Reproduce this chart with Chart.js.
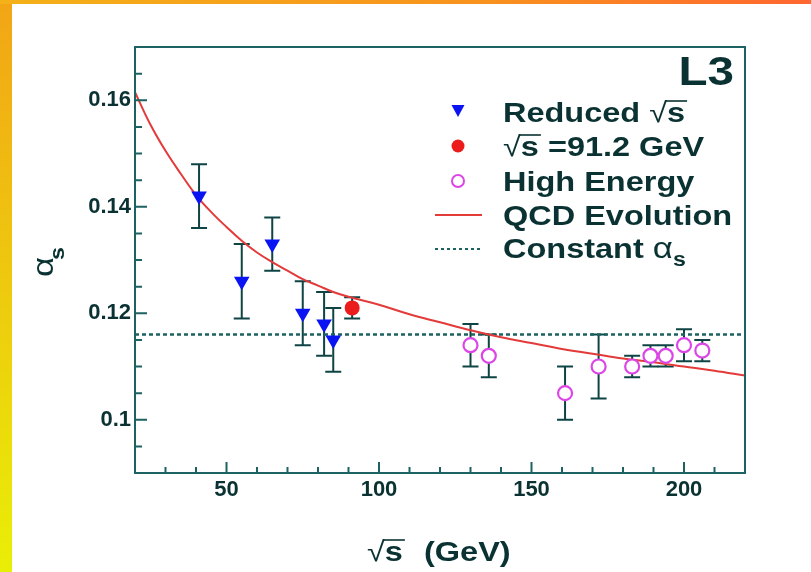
<!DOCTYPE html>
<html>
<head>
<meta charset="utf-8">
<script src="https://cdn.jsdelivr.net/npm/chart.js@4.4.0/dist/chart.umd.min.js"></script>
<style>
    html, body { margin: 0; padding: 0; background: #fff; }
    #wrap { position: relative; width: 811px; height: 572px; overflow: hidden; background: #fff; }
    #left { position: absolute; left: 0; top: 0; width: 12px; height: 572px; background: linear-gradient(#f2a516, #e9ee06); }
    #top { position: absolute; left: 0; top: 0; width: 811px; height: 4px; background: linear-gradient(90deg, #f4b118, #f8921e 60%, #ff6630); }
    canvas { position: absolute; left: 0; top: 0; }
</style>
</head>
<body>
<div id="wrap">
    <div id="left"></div>
    <div id="top"></div>
    <canvas id="myChart" width="811" height="572"></canvas>
</div>
<script>
// ejes
const xMin = 20, xMax = 220;
const yMin = 0.09, yMax = 0.17;
const xTicks = [50, 100, 150, 200];
const xTickLabels = ['50', '100', '150', '200'];
const yTicks = [0.1, 0.12, 0.14, 0.16];
const yTickLabels = ['0.1', '0.12', '0.14', '0.16'];

// Reduced sqrt(s)
const reducedX = [41, 55, 65, 75, 82, 85];
const reducedY = [0.142, 0.126, 0.133, 0.120, 0.118, 0.115];
const reducedErr = [0.006, 0.007, 0.005, 0.006, 0.006, 0.006];

// sqrt(s) = 91.2 GeV
const zX = [91.2];
const zY = [0.121];
const zErr = [0.002];

// High Energy
const highX = [130, 136, 161, 172, 183, 189, 194, 200, 206];
const highY = [0.114, 0.112, 0.105, 0.110, 0.110, 0.112, 0.112, 0.114, 0.113];
const highErr = [0.004, 0.004, 0.005, 0.006, 0.002, 0.002, 0.002, 0.003, 0.002];

// QCD Evolution
const qcdX = [20, 25, 30, 35, 40, 45, 50, 55, 60, 65, 70, 75, 80, 85, 90, 100, 110, 120, 130, 140, 150, 160, 170, 180, 190, 200, 210, 220];
const qcdY = [0.1615, 0.1555, 0.1505, 0.1462, 0.1422, 0.1390, 0.1362, 0.1336, 0.1314, 0.1296, 0.1280, 0.1264, 0.1252, 0.1240, 0.1231, 0.1216, 0.1198, 0.1183, 0.1168, 0.1155, 0.1144, 0.1133, 0.1124, 0.1115, 0.1108, 0.1100, 0.1092, 0.1083];

// Constant alpha_s
const constAlpha = 0.116;

const ink = '#0b3232';
const frameColor = '#1c6262';
const barColor = '#0f4444';
const blue = '#0a14f2';
const red = '#ec1c1c';
const magenta = '#dc46e6';
const curveRed = '#e33a3a';
const SX = 1.16;
const FONT = '"Liberation Sans", Arial, sans-serif';

function pts(xs, ys) {
    return xs.map((x, i) => ({ x: x, y: ys[i] }));
}

function txt(ctx, s, x, y, font, align) {
    ctx.save();
    ctx.font = font;
    ctx.textAlign = align || 'left';
    ctx.textBaseline = 'alphabetic';
    ctx.translate(x, y);
    ctx.scale(SX, 1);
    ctx.fillText(s, 0, 0);
    ctx.restore();
    ctx.font = font;
    return ctx.measureText(s).width * SX;
}

// raiz con barra: devuelve el ancho
function sqrtS(ctx, x, y, size) {
    const fr = size + 'px ' + FONT;
    const fb = 'bold ' + size + 'px ' + FONT;
    ctx.font = fr;
    const top = ctx.measureText('\u221A').actualBoundingBoxAscent;
    const w1 = txt(ctx, '\u221A', x, y, fr);
    const w2 = txt(ctx, 's', x + w1, y, fb);
    ctx.save();
    ctx.strokeStyle = ink;
    ctx.lineWidth = 1.6;
    ctx.beginPath();
    ctx.moveTo(x + w1 - 1, y - top + 1);
    ctx.lineTo(x + w1 + w2 + 2, y - top + 1);
    ctx.stroke();
    ctx.restore();
    return w1 + w2;
}

function errBars(ctx, xs, ys, es, sx, sy) {
    xs.forEach((x, i) => {
        const px = sx.getPixelForValue(x);
        const p1 = sy.getPixelForValue(ys[i] + es[i]);
        const p2 = sy.getPixelForValue(ys[i] - es[i]);
        ctx.beginPath();
        ctx.moveTo(px, p1); ctx.lineTo(px, p2);
        ctx.moveTo(px - 8, p1); ctx.lineTo(px + 8, p1);
        ctx.moveTo(px - 8, p2); ctx.lineTo(px + 8, p2);
        ctx.stroke();
    });
}

const l3Plot = {
    id: 'l3Plot',
    beforeDatasetsDraw(chart) {
        const ctx = chart.ctx;
        const sx = chart.scales.x, sy = chart.scales.y;
        ctx.save();
        ctx.strokeStyle = barColor;
        ctx.lineWidth = 2;
        errBars(ctx, reducedX, reducedY, reducedErr, sx, sy);
        errBars(ctx, zX, zY, zErr, sx, sy);
        errBars(ctx, highX, highY, highErr, sx, sy);
        ctx.restore();
    },
    afterDraw(chart) {
        const ctx = chart.ctx;
        const a = chart.chartArea;
        const sx = chart.scales.x, sy = chart.scales.y;
        ctx.save();
        // marco
        ctx.strokeStyle = frameColor;
        ctx.lineWidth = 2;
        ctx.strokeRect(a.left, a.top, a.right - a.left, a.bottom - a.top);
        // ticks hacia adentro
        ctx.beginPath();
        for (let v = 30; v <= 210; v += 10) {
            const px = sx.getPixelForValue(v);
            const len = v % 50 === 0 ? 11 : 6;
            ctx.moveTo(px, a.bottom);
            ctx.lineTo(px, a.bottom - len);
        }
        for (let k = 19; k <= 33; k++) {
            const py = sy.getPixelForValue(k * 0.005);
            const len = k % 4 === 0 ? 12 : 7;
            ctx.moveTo(a.left, py);
            ctx.lineTo(a.left + len, py);
        }
        ctx.stroke();

        ctx.fillStyle = ink;
        // L3
        txt(ctx, 'L3', 734, 85, 'bold 41px ' + FONT, 'right');

        // leyenda
        const fb = 'bold 28px ' + FONT;
        const tx = 503, mx = 458;
        const rows = [122, 156, 191, 225, 258];
        let w = txt(ctx, 'Reduced ', tx, rows[0], fb);
        sqrtS(ctx, tx + w, rows[0], 28);
        w = sqrtS(ctx, tx, rows[1], 28);
        txt(ctx, ' =91.2 GeV', tx + w, rows[1], fb);
        txt(ctx, 'High Energy', tx, rows[2], fb);
        txt(ctx, 'QCD Evolution', tx, rows[3], fb);
        w = txt(ctx, 'Constant ', tx, rows[4], fb);
        w += txt(ctx, '\u03B1', tx + w, rows[4], '30px ' + FONT);
        txt(ctx, 's', tx + w, rows[4] + 8, 'bold 20px ' + FONT);

        ctx.fillStyle = blue;
        ctx.beginPath();
        ctx.moveTo(mx - 6.5, rows[0] - 17);
        ctx.lineTo(mx + 6.5, rows[0] - 17);
        ctx.lineTo(mx, rows[0] - 5);
        ctx.closePath();
        ctx.fill();
        ctx.fillStyle = red;
        ctx.beginPath();
        ctx.arc(mx, rows[1] - 10, 6.5, 0, Math.PI * 2);
        ctx.fill();
        ctx.strokeStyle = magenta;
        ctx.lineWidth = 2;
        ctx.beginPath();
        ctx.arc(mx, rows[2] - 10, 6, 0, Math.PI * 2);
        ctx.stroke();
        ctx.strokeStyle = curveRed;
        ctx.beginPath();
        ctx.moveTo(435, rows[3] - 10); ctx.lineTo(482, rows[3] - 10);
        ctx.stroke();
        ctx.strokeStyle = frameColor;
        ctx.setLineDash([3, 3]);
        ctx.beginPath();
        ctx.moveTo(435, rows[4] - 9); ctx.lineTo(482, rows[4] - 9);
        ctx.stroke();
        ctx.setLineDash([]);

        // titulo eje x
        ctx.fillStyle = ink;
        sqrtS(ctx, 367, 561, 28);
        txt(ctx, '(GeV)', 424, 561, 'bold 28px ' + FONT);

        // titulo eje y
        ctx.save();
        ctx.translate(49, 257);
        ctx.rotate(-Math.PI / 2);
        txt(ctx, '\u03B1', -20, 4, '30px ' + FONT);
        txt(ctx, 's', -3, 15, 'bold 20px ' + FONT);
        ctx.restore();

        ctx.restore();
    }
};

const tickFont = { family: 'Liberation Sans', size: 22, weight: 'bold' };

new Chart(document.getElementById('myChart'), {
    type: 'scatter',
    data: {
        datasets: [
            {
                label: 'Reduced \u221As',
                data: pts(reducedX, reducedY),
                pointStyle: 'triangle',
                rotation: 180,
                pointRadius: 9,
                pointHoverRadius: 9,
                backgroundColor: blue,
                borderColor: blue,
                borderWidth: 0,
                order: 0
            },
            {
                label: '\u221As =91.2 GeV',
                data: pts(zX, zY),
                pointStyle: 'circle',
                pointRadius: 7.5,
                backgroundColor: red,
                borderColor: red,
                borderWidth: 0,
                order: 0
            },
            {
                label: 'High Energy',
                data: pts(highX, highY),
                pointStyle: 'circle',
                pointRadius: 7,
                backgroundColor: '#ffffff',
                borderColor: magenta,
                borderWidth: 2.2,
                order: 0
            },
            {
                label: 'QCD Evolution',
                data: pts(qcdX, qcdY),
                showLine: true,
                borderColor: curveRed,
                backgroundColor: curveRed,
                borderWidth: 2,
                pointRadius: 0,
                tension: 0.4,
                order: 2
            },
            {
                label: 'Constant \u03B1s',
                data: [{ x: xMin, y: constAlpha }, { x: xMax, y: constAlpha }],
                showLine: true,
                borderColor: frameColor,
                borderWidth: 2.4,
                borderDash: [4, 3],
                pointRadius: 0,
                order: 3
            }
        ]
    },
    options: {
        responsive: false,
        animation: false,
        layout: { padding: { top: 47, right: 66, bottom: 0, left: 0 } },
        plugins: {
            legend: { display: false },
            tooltip: { enabled: false }
        },
        scales: {
            x: {
                type: 'linear',
                min: xMin,
                max: xMax,
                afterBuildTicks: s => { s.ticks = xTicks.map(v => ({ value: v })); },
                afterFit: s => { s.height = 99; },
                grid: { display: false, drawTicks: false },
                border: { display: false },
                ticks: {
                    autoSkip: false,
                    maxRotation: 0,
                    padding: 4,
                    color: ink,
                    font: tickFont,
                    callback: (v, i) => xTickLabels[i]
                }
            },
            y: {
                type: 'linear',
                min: yMin,
                max: yMax,
                afterBuildTicks: s => { s.ticks = yTicks.map(v => ({ value: v })); },
                afterFit: s => { s.width = 135; },
                grid: { display: false, drawTicks: false },
                border: { display: false },
                ticks: {
                    autoSkip: false,
                    padding: 4,
                    color: ink,
                    font: tickFont,
                    callback: (v, i) => yTickLabels[i]
                }
            }
        }
    },
    plugins: [l3Plot]
});
</script>
</body>
</html>
